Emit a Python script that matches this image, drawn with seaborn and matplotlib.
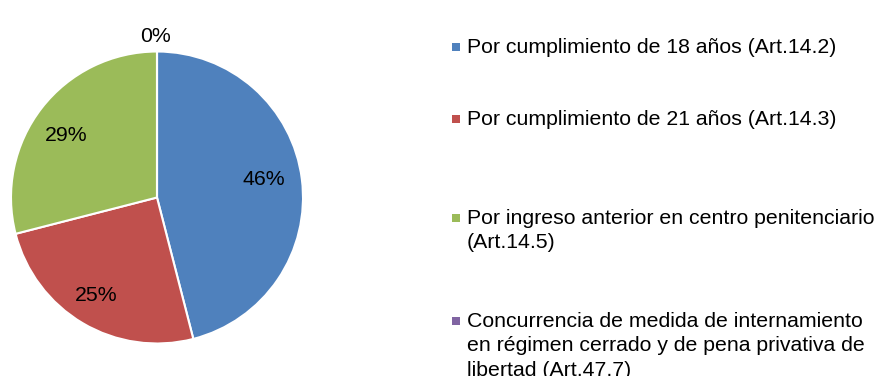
import matplotlib
matplotlib.use("Agg")
import matplotlib.pyplot as plt
from matplotlib.patches import Rectangle
import seaborn as sns

sns.set_theme(style="white")
plt.rcParams["font.family"] = ["Liberation Sans", "DejaVu Sans"]

categories = [
    "Por cumplimiento de 18 años (Art.14.2)",
    "Por cumplimiento de 21 años (Art.14.3)",
    "Por ingreso anterior en centro penitenciario\n(Art.14.5)",
    "Concurrencia de medida de internamiento\nen régimen cerrado y de pena privativa de\nlibertad (Art.47.7)",
]
shares = [46, 25, 29, 0]
colors = ["#4F81BD", "#C0504D", "#9BBB59", "#8064A2"]

# where each percentage label sits, in units of the pie radius
label_xy = [(0.733, 0.125), (-0.418, -0.668), (-0.623, 0.428), (-0.007, 1.10)]

FS = 15.3
W, H = 878, 376
fig = plt.figure(figsize=(W / 100, H / 100), dpi=100)

cx, cy, r = 157, 197.5, 146
ax = fig.add_axes([(cx - r) / W, (H - cy - r) / H, 2 * r / W, 2 * r / H])

wedges, texts, autotexts = ax.pie(
    shares, colors=colors, startangle=90, counterclock=False,
    radius=1, autopct=lambda p: f"{p:.0f}%", pctdistance=0.76,
    wedgeprops=dict(edgecolor="white", linewidth=1.5),
    textprops=dict(fontsize=FS, color="black"),
)
for t, xy in zip(autotexts, label_xy):
    t.set_position(xy)
ax.set_xlim(-1, 1)
ax.set_ylim(-1, 1)
ax.set_aspect("equal")
ax.axis("off")

# legend entries on the right, first line aligned with the colour square
legend_rows = [47, 119, 218, 321]
for lab, col, yc in zip(categories, colors, legend_rows):
    fig.patches.append(Rectangle((452 / W, (H - yc - 4) / H), 8 / W, 8 / H,
                                 transform=fig.transFigure, facecolor=col,
                                 edgecolor="none"))
    fig.text(467 / W, (H - yc + 9) / H, lab, fontsize=FS, va="top",
             ha="left", linespacing=1.36, color="black")

fig.savefig("out.png", dpi=100, facecolor="white")
